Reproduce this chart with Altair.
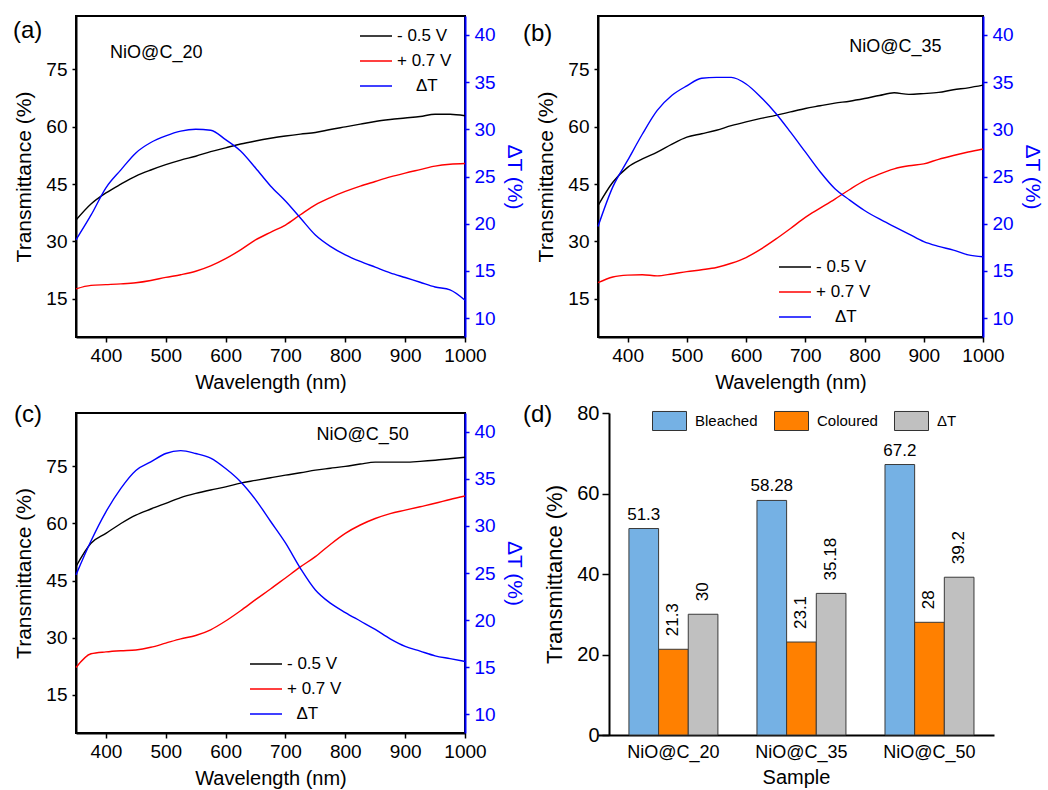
import altair as alt
import pandas as pd

FONT = "Liberation Sans, Arial, Helvetica, sans-serif"

# ---- spectra (wavelength in nm) ----
wavelength = [350, 375, 400, 425, 450, 475, 500, 525, 550, 575, 600, 625, 650, 675,
              700, 725, 750, 775, 800, 825, 850, 875, 900, 925, 950, 975, 1000]

# NiO@C_20
a_neg = [35.6, 39.8, 42.7, 45.0, 47.1, 48.7, 50.1, 51.3, 52.3, 53.5, 54.5, 55.5, 56.3, 57.0,
         57.6, 58.1, 58.5, 59.3, 60.0, 60.7, 61.4, 61.9, 62.3, 62.7, 63.3, 63.3, 62.9]
a_pos = [17.6, 18.5, 18.7, 18.9, 19.2, 19.8, 20.6, 21.3, 22.2, 23.6, 25.5, 27.8, 30.4, 32.4,
         34.3, 37.0, 39.6, 41.5, 43.1, 44.5, 45.7, 46.9, 47.9, 48.8, 49.7, 50.2, 50.4]
a_dt = [18.3, 20.9, 23.8, 25.7, 27.5, 28.6, 29.3, 29.8, 30.0, 29.9, 28.9, 27.7, 25.9, 24.0,
        22.4, 20.6, 18.8, 17.6, 16.7, 16.0, 15.4, 14.8, 14.3, 13.8, 13.3, 13.0, 11.9]

# NiO@C_35
b_neg = [39.4, 45.5, 49.4, 51.6, 53.4, 55.5, 57.3, 58.2, 59.1, 60.3, 61.3, 62.2, 63.0, 63.9,
         64.8, 65.5, 66.2, 66.7, 67.4, 68.2, 68.9, 68.5, 68.7, 69.0, 69.7, 70.2, 70.9]
b_pos = [19.2, 20.7, 21.2, 21.3, 21.0, 21.5, 22.1, 22.6, 23.2, 24.3, 25.8, 28.0, 30.6, 33.4,
         36.3, 38.7, 41.1, 43.6, 45.9, 47.6, 49.0, 49.8, 50.3, 51.5, 52.5, 53.4, 54.2]
b_dt = [19.7, 23.9, 26.7, 29.5, 32.0, 33.6, 34.6, 35.4, 35.5, 35.5, 34.8, 33.4, 31.7, 29.7,
        27.6, 25.5, 23.7, 22.5, 21.4, 20.5, 19.7, 18.9, 18.1, 17.6, 17.2, 16.7, 16.5]

# NiO@C_50
c_neg = [48.7, 54.8, 57.4, 60.0, 62.2, 63.8, 65.3, 66.8, 67.9, 68.8, 69.6, 70.6, 71.3, 72.0,
         72.7, 73.3, 74.0, 74.5, 75.0, 75.6, 76.1, 76.1, 76.1, 76.3, 76.6, 77.0, 77.4]
c_pos = [22.2, 25.8, 26.3, 26.6, 26.8, 27.5, 28.6, 29.7, 30.6, 32.1, 34.4, 37.1, 40.0, 42.8,
         45.7, 48.6, 51.3, 54.5, 57.4, 59.6, 61.3, 62.6, 63.5, 64.4, 65.3, 66.3, 67.2]
c_dt = [24.8, 28.4, 31.5, 34.0, 35.9, 36.8, 37.7, 38.0, 37.7, 37.2, 36.1, 34.7, 32.8, 30.5,
        28.2, 25.5, 23.2, 21.8, 20.8, 19.9, 19.0, 18.0, 17.2, 16.7, 16.2, 15.9, 15.6]

voltage_names = ["- 0.5 V", "+ 0.7 V"]
series_colors = ["#000000", "#ff0000", "#0000ff"]

# ---- summary bars ----
samples = ["NiO@C_20", "NiO@C_35", "NiO@C_50"]
states = ["Bleached", "Coloured", "ΔT"]
state_colors = ["#75b1e4", "#ff8000", "#c0c0c0"]
bleached = [51.3, 58.28, 67.2]
coloured = [21.3, 23.1, 28]
delta_t = [30, 35.18, 39.2]


def indented(text, n):
    # zero-width lead keeps the non-breaking indent from being trimmed
    return "\u200b" + "\u00a0" * n + text


def spectra_panel(tag, sample, neg, pos, dt, width, height,
                  legend_xy, sample_xy, tag_xy, indent):
    n = len(wavelength)
    names = voltage_names + [indented("ΔT", indent)]
    trans = pd.DataFrame({
        "wavelength": wavelength + wavelength,
        "series": [names[0]] * n + [names[1]] * n,
        "T": neg + pos,
    })
    delta = pd.DataFrame({"wavelength": wavelength,
                          "series": [names[2]] * n,
                          "dT": dt})
    name_df = pd.DataFrame({"wavelength": [sample_xy[0]], "T": [sample_xy[1]],
                            "text": [sample]})
    tag_df = pd.DataFrame({"text": [tag]})

    x = alt.X("wavelength:Q",
              scale=alt.Scale(domain=[350, 1000], nice=False, zero=False),
              axis=alt.Axis(values=list(range(400, 1001, 100)), format="d",
                            title="Wavelength (nm)", tickSize=5,
                            labelPadding=4, titlePadding=7, titleFontSize=20))
    y_left = alt.Y("T:Q",
                   scale=alt.Scale(domain=[5, 89], nice=False, zero=False),
                   axis=alt.Axis(values=[15, 30, 45, 60, 75],
                                 title="Transmittance (%)", tickSize=4,
                                 labelPadding=5, titlePadding=11,
                                 titleFontSize=21))
    y_right = alt.Y("dT:Q",
                    scale=alt.Scale(domain=[8, 42], nice=False, zero=False),
                    axis=alt.Axis(orient="right", values=[10, 15, 20, 25, 30, 35, 40],
                                  title="ΔT (%)", tickSize=4, labelPadding=5,
                                  titlePadding=8, titleFontSize=21,
                                  domainColor="#0000ff", tickColor="#0000ff",
                                  labelColor="#0000ff", titleColor="#0000ff"))
    # a 32 px legend stroke on a 16 px symbol cell keeps the rows tight
    color = alt.Color(
        "series:N",
        scale=alt.Scale(domain=names, range=series_colors),
        legend=alt.Legend(
            title=None, orient="none", legendX=legend_xy[0], legendY=legend_xy[1],
            symbolType="M-2,0H2", symbolSize=256, symbolStrokeWidth=1.5,
            labelFontSize=17, labelOffset=12, rowPadding=8, padding=0,
        ),
    )

    t_lines = alt.Chart(trans).mark_line(strokeWidth=1.4, interpolate="monotone").encode(
        x=x, y=y_left, color=color)
    name_text = alt.Chart(name_df).mark_text(
        align="left", baseline="middle", fontSize=18, font=FONT, color="black"
    ).encode(x="wavelength:Q", y="T:Q", text="text:N")
    tag_text = alt.Chart(tag_df).mark_text(
        align="left", baseline="middle", fontSize=24, font=FONT, color="black"
    ).encode(text="text:N", x=alt.value(tag_xy[0]), y=alt.value(tag_xy[1]))
    dt_line = alt.Chart(delta).mark_line(strokeWidth=1.4, interpolate="monotone").encode(
        x=x, y=y_right, color=color)

    left_layer = alt.layer(t_lines, name_text, tag_text)
    return alt.layer(left_layer, dt_line).resolve_scale(y="independent").properties(
        width=width, height=height)


pa = spectra_panel("(a)", "NiO@C_20", a_neg, a_pos, a_dt, 389, 321,
                   (291, 11), (407, 79.3), (-63, 15), 4)
pb = spectra_panel("(b)", "NiO@C_35", b_neg, b_pos, b_dt, 385, 321,
                   (188, 242), (774, 80.9), (-75, 18), 4)
pc = spectra_panel("(c)", "NiO@C_50", c_neg, c_pos, c_dt, 389, 320,
                   (181, 242), (752, 83.2), (-62, 2), 2)

# ---- panel (d): grouped bars ----
rows = []
for s, vals in zip(samples, zip(bleached, coloured, delta_t)):
    for st, v in zip(states, vals):
        rows.append({"sample": s, "state": st, "value": v, "label": f"{v:g}"})
bar_df = pd.DataFrame(rows)

xd = alt.X("sample:N", sort=samples,
           scale=alt.Scale(paddingInner=0.305, paddingOuter=0.199, align=0.607),
           axis=alt.Axis(title="Sample", labelAngle=0, ticks=False, labelPadding=8,
                         labelFontSize=18, titleFontSize=20, titlePadding=6))
xo = alt.XOffset("state:N", sort=states, scale=alt.Scale(domain=states))
yd = alt.Y("value:Q", scale=alt.Scale(domain=[0, 80], nice=False),
           axis=alt.Axis(values=[0, 20, 40, 60, 80], title="Transmittance (%)",
                         offset=-11, tickSize=7, labelPadding=3, labelFontSize=20,
                         titleFontSize=22, titlePadding=10))

bars = alt.Chart(bar_df).mark_bar(stroke="#3a3a3a", strokeWidth=1).encode(
    x=xd, xOffset=xo, y=yd,
    color=alt.Color("state:N", scale=alt.Scale(domain=states, range=state_colors),
                    legend=alt.Legend(
                        title=None, orient="none", legendX=54, legendY=-10,
                        direction="horizontal",
                        symbolType="M-1,-0.56H1V0.56H-1Z", symbolSize=1156,
                        symbolStrokeColor="#333333", symbolStrokeWidth=1,
                        labelFontSize=15, labelOffset=8, columnPadding=14,
                        padding=0)),
)
bleach_text = alt.Chart(bar_df).transform_filter(
    alt.datum.state == "Bleached"
).mark_text(baseline="alphabetic", dy=-9, fontSize=17, font=FONT, color="black").encode(
    x=xd, xOffset=xo, y=yd, text="label:N")
other_text = alt.Chart(bar_df).transform_filter(
    alt.datum.state != "Bleached"
).mark_text(angle=270, align="left", baseline="middle", dx=13, fontSize=17,
            font=FONT, color="black").encode(
    x=xd, xOffset=xo, y=yd, text="label:N")
d_tag = alt.Chart(pd.DataFrame({"text": ["(d)"]})).mark_text(
    align="left", baseline="middle", fontSize=24, font=FONT, color="black"
).encode(text="text:N", x=alt.value(-75), y=alt.value(2))

pd_chart = alt.layer(bars, bleach_text, other_text, d_tag).properties(
    width=396, height=322, view=alt.ViewBackground(strokeOpacity=0))

chart = alt.concat(
    pa, pb, pc, pd_chart, columns=2,
    spacing=alt.RowColnumber(row=76, column=133),
    bounds="flush", align="none",
).resolve_scale(color="independent").resolve_legend(color="independent").properties(
    padding={"left": 12, "top": 15, "right": 0, "bottom": 0}
).configure(font=FONT).configure_view(
    stroke="black", strokeWidth=2
).configure_axis(
    labelFont=FONT, titleFont=FONT, labelFontSize=19, titleFontWeight="normal",
    domainColor="black", domainWidth=2, tickColor="black", tickWidth=1.5,
    labelColor="black", titleColor="black", grid=False, labelFlush=False,
).configure_legend(labelFont=FONT, labelColor="black")

chart.save("out.html", embed_options={"renderer": "svg", "actions": False})
